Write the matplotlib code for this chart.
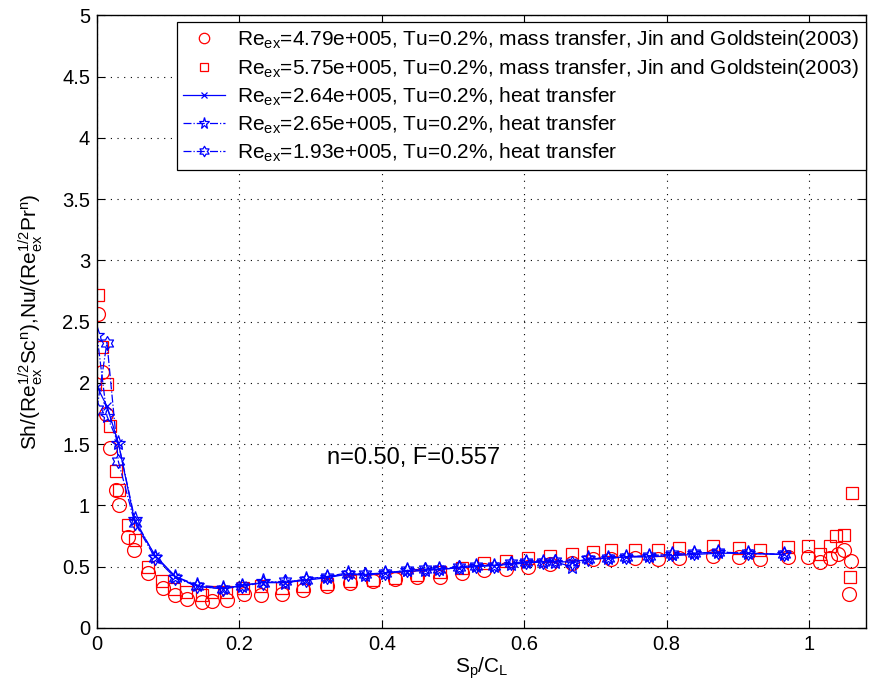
import numpy as np
import matplotlib
matplotlib.use("Agg")
import matplotlib.pyplot as plt
from matplotlib.path import Path

plt.rcParams['font.family'] = ['Liberation Sans', 'DejaVu Sans']
plt.rcParams['mathtext.fontset'] = 'custom'
plt.rcParams['mathtext.rm'] = 'Liberation Sans'
plt.rcParams['mathtext.it'] = 'Liberation Sans'

# mass transfer, Re=4.79e5 (circles)
x_c = [0.001, 0.007, 0.013, 0.018, 0.027, 0.031, 0.043, 0.052, 0.072, 0.093,
       0.110, 0.126, 0.148, 0.162, 0.182, 0.206, 0.231, 0.260, 0.290, 0.323,
       0.355, 0.388, 0.419, 0.450, 0.482, 0.513, 0.544, 0.575, 0.605, 0.636,
       0.667, 0.696, 0.722, 0.756, 0.788, 0.817, 0.865, 0.902, 0.931, 0.970,
       0.999, 1.015, 1.030, 1.040, 1.049, 1.059, 1.056]
y_c = [2.56, 2.09, 1.75, 1.47, 1.13, 1.00, 0.74, 0.64, 0.45, 0.33,
       0.27, 0.24, 0.21, 0.22, 0.23, 0.28, 0.27, 0.28, 0.31, 0.34,
       0.37, 0.38, 0.40, 0.42, 0.42, 0.45, 0.47, 0.48, 0.50, 0.52,
       0.53, 0.56, 0.56, 0.57, 0.56, 0.57, 0.59, 0.58, 0.56, 0.58,
       0.58, 0.54, 0.57, 0.60, 0.64, 0.55, 0.28]

# mass transfer, Re=5.75e5 (squares)
x_s = [0.001, 0.007, 0.014, 0.018, 0.027, 0.031, 0.044, 0.053, 0.072, 0.091,
       0.108, 0.125, 0.148, 0.162, 0.181, 0.205, 0.231, 0.260, 0.290, 0.323,
       0.355, 0.388, 0.419, 0.450, 0.482, 0.513, 0.544, 0.575, 0.605, 0.636,
       0.667, 0.696, 0.722, 0.756, 0.788, 0.817, 0.865, 0.902, 0.931, 0.970,
       0.999, 1.016, 1.029, 1.038, 1.049, 1.060, 1.057]
y_s = [2.72, 2.29, 1.99, 1.65, 1.28, 1.13, 0.84, 0.72, 0.50, 0.38,
       0.32, 0.29, 0.27, 0.29, 0.29, 0.33, 0.34, 0.33, 0.34, 0.36,
       0.38, 0.39, 0.41, 0.43, 0.46, 0.49, 0.53, 0.55, 0.57, 0.59,
       0.60, 0.62, 0.64, 0.64, 0.64, 0.65, 0.67, 0.65, 0.64, 0.66,
       0.67, 0.60, 0.67, 0.75, 0.76, 1.10, 0.42]

# heat transfer series
x_h = [0.0, 0.014, 0.030, 0.053, 0.082, 0.110, 0.141, 0.177, 0.204, 0.233,
       0.264, 0.293, 0.323, 0.352, 0.377, 0.405, 0.436, 0.460, 0.481, 0.508,
       0.532, 0.557, 0.581, 0.603, 0.626, 0.643, 0.667, 0.689, 0.717, 0.743,
       0.775, 0.807, 0.838, 0.872, 0.914, 0.965]
y_h1 = [1.97, 1.81, 1.51, 0.87, 0.59, 0.42, 0.34, 0.32, 0.35, 0.37,
        0.37, 0.39, 0.41, 0.44, 0.43, 0.45, 0.46, 0.47, 0.48, 0.49,
        0.50, 0.51, 0.52, 0.53, 0.54, 0.54, 0.54, 0.56, 0.57, 0.58,
        0.58, 0.59, 0.60, 0.61, 0.61, 0.60]
y_h2 = [2.39, 1.73, 1.51, 0.89, 0.58, 0.42, 0.35, 0.33, 0.34, 0.38,
        0.37, 0.40, 0.42, 0.45, 0.43, 0.45, 0.47, 0.47, 0.48, 0.49,
        0.51, 0.51, 0.52, 0.54, 0.54, 0.54, 0.50, 0.57, 0.57, 0.58,
        0.59, 0.60, 0.61, 0.62, 0.61, 0.60]
y_h3 = [1.79, 2.33, 1.36, 0.86, 0.57, 0.41, 0.34, 0.32, 0.34, 0.37,
        0.38, 0.39, 0.42, 0.44, 0.44, 0.45, 0.47, 0.48, 0.48, 0.50,
        0.51, 0.51, 0.53, 0.54, 0.54, 0.55, 0.53, 0.56, 0.57, 0.58,
        0.59, 0.60, 0.61, 0.62, 0.61, 0.60]

labels = [
    r'Re$_{\mathrm{ex}}$=4.79e+005, Tu=0.2%, mass transfer, Jin and Goldstein(2003)',
    r'Re$_{\mathrm{ex}}$=5.75e+005, Tu=0.2%, mass transfer, Jin and Goldstein(2003)',
    r'Re$_{\mathrm{ex}}$=2.64e+005, Tu=0.2%, heat transfer',
    r'Re$_{\mathrm{ex}}$=2.65e+005, Tu=0.2%, heat transfer',
    r'Re$_{\mathrm{ex}}$=1.93e+005, Tu=0.2%, heat transfer',
]

# hexagram marker (two overlapping triangles)
ang = np.deg2rad(90 + 30 * np.arange(12))
rad = np.where(np.arange(12) % 2 == 0, 1.0, 1 / np.sqrt(3))
verts = np.column_stack([rad * np.cos(ang), rad * np.sin(ang)])
verts = np.vstack([verts, verts[:1]])
hexagram = Path(verts, closed=True)

fig = plt.figure(figsize=(8.69, 6.93), dpi=100)
ax = fig.add_axes([0.1116, 0.0938, 0.885, 0.884])

ax.plot(x_c, y_c, 'o', color='red', mfc='none', ms=10, mew=0.9, label=labels[0])
ax.plot(x_s, y_s, 's', color='red', mfc='none', ms=8.5, mew=0.9, label=labels[1])
ax.plot(x_h, y_h1, '-x', color='blue', lw=0.9, ms=6, mew=0.9, label=labels[2])
ax.plot(x_h, y_h2, '-.', marker='*', color='blue', mfc='none', lw=0.9, ms=11, mew=0.9,
        label=labels[3])
ax.plot(x_h, y_h3, '-.', marker=hexagram, color='blue', mfc='none', lw=0.9, ms=10,
        mew=0.9, label=labels[4])

ax.set_xlim(0, 1.08)
ax.set_ylim(0, 5)
ax.set_xticks([0, 0.2, 0.4, 0.6, 0.8, 1])
ax.set_xticklabels(['0', '0.2', '0.4', '0.6', '0.8', '1'])
ax.set_yticks(np.arange(0, 5.01, 0.5))
ax.set_yticklabels(['0', '0.5', '1', '1.5', '2', '2.5', '3', '3.5', '4', '4.5', '5'])
ax.tick_params(direction='in', top=True, right=True, labelsize=14.5, length=6, width=0.8,
               pad=5)
ax.grid(True, color='black', linestyle=(0, (1, 5)), linewidth=0.8)
for sp in ax.spines.values():
    sp.set_linewidth(1.0)

ax.set_xlabel(r'S$_\mathrm{p}$/C$_\mathrm{L}$', fontsize=15, labelpad=1)
ax.set_ylabel(r'Sh/(Re$_{\mathrm{ex}}^{\mathrm{1/2}}$Sc$^{\mathrm{n}}$),Nu/(Re$_{\mathrm{ex}}^{\mathrm{1/2}}$Pr$^{\mathrm{n}}$)',
              fontsize=15, labelpad=12)

ax.text(0.445, 1.39, 'n=0.50, F=0.557', fontsize=17, ha='center', va='center')

leg = ax.legend(loc='upper right', bbox_to_anchor=(0.9995, 0.989), fontsize=15,
                frameon=True, fancybox=False, edgecolor='black', framealpha=1,
                borderaxespad=0, handlelength=2.0, labelspacing=0.27, borderpad=0.3,
                handletextpad=0.6, markerscale=0.75)
leg.get_frame().set_linewidth(0.9)

fig.savefig('out.png', dpi=100)
